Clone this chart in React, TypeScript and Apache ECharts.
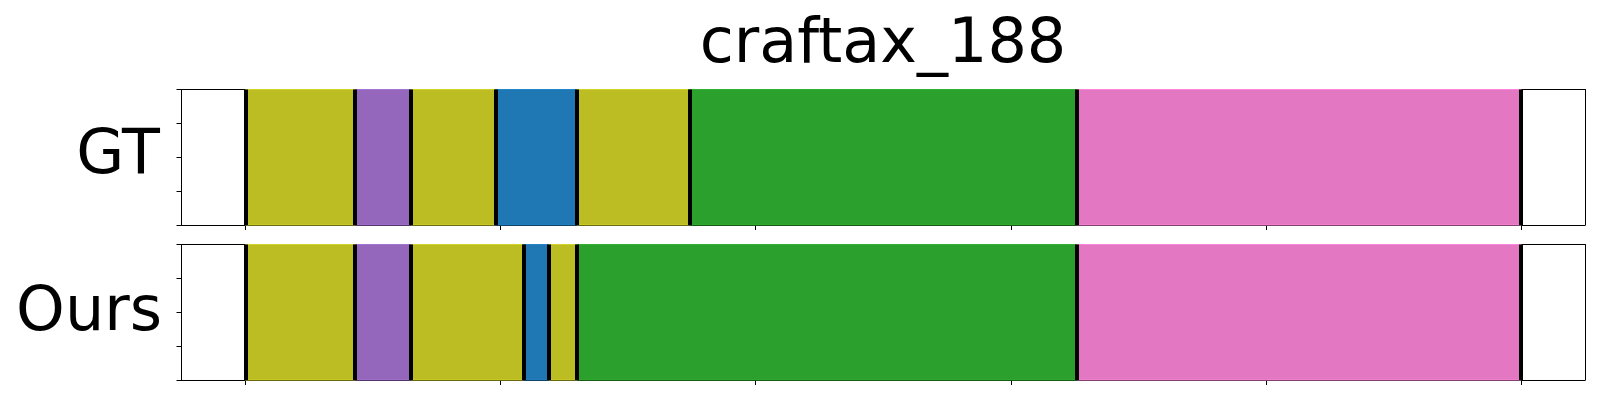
import React, { useEffect, useRef } from "react";
import * as echarts from "echarts";

const titleText = "craftax_188";
const rowLabels = ["GT", "Ours"];
// segment boundaries (time steps) and class index of each segment
const gtBoundaries = [0, 43, 65, 98, 130, 174, 326, 500];
const gtClasses = [8, 4, 8, 0, 8, 2, 6];
const oursBoundaries = [0, 43, 65, 109, 119, 130, 326, 500];
const oursClasses = [8, 4, 8, 0, 8, 2, 6];
const xTicks = [0, 100, 200, 300, 400, 500];

const palette = [
  "#1f77b4", "#ff7f0e", "#2ca02c", "#d62728", "#9467bd",
  "#8c564b", "#e377c2", "#7f7f7f", "#bcbd22", "#17becf",
];

const FONT = "DejaVu Sans";

function segs(bounds: number[], classes: number[]) {
  return classes.map((c, i) => [bounds[i], bounds[i + 1], c]);
}

export default function App() {
  const ref = useRef<HTMLDivElement>(null);
  useEffect(() => {
    if (!ref.current) return;
    const chart = echarts.init(ref.current, undefined, { renderer: "svg" });
    const grids = [
      { left: 181.5, right: 15, top: 89.5, height: 135.5 },
      { left: 181.5, right: 15, top: 244.5, height: 135.5 },
    ];
    const xAxes: any[] = [];
    const yAxes: any[] = [];
    grids.forEach((_, gi) => {
      xAxes.push({
        type: "value", gridIndex: gi, min: -25, max: 525, position: "bottom",
        axisLine: { show: true, onZero: false, lineStyle: { color: "#000", width: 1 } },
        axisTick: { show: true, length: 5, inside: false, customValues: xTicks, lineStyle: { color: "#000", width: 1 } },
        axisLabel: { show: false, customValues: xTicks },
        splitLine: { show: false },
      });
      xAxes.push({
        type: "value", gridIndex: gi, min: -25, max: 525, position: "top",
        axisLine: { show: true, onZero: false, lineStyle: { color: "#000", width: 1 } },
        axisTick: { show: false }, axisLabel: { show: false }, splitLine: { show: false },
      });
      yAxes.push({
        type: "value", gridIndex: gi, min: 0, max: 1, interval: 0.25, position: "left",
        axisLine: { show: true, onZero: false, lineStyle: { color: "#000", width: 1 } },
        axisTick: { show: true, length: 5, inside: false, lineStyle: { color: "#000", width: 1 } },
        axisLabel: { show: false }, splitLine: { show: false },
      });
      yAxes.push({
        type: "value", gridIndex: gi, min: 0, max: 1, position: "right",
        axisLine: { show: true, onZero: false, lineStyle: { color: "#000", width: 1 } },
        axisTick: { show: false }, axisLabel: { show: false }, splitLine: { show: false },
      });
    });

    const renderItem = (params: any, api: any) => {
      const s = api.value(0);
      const e = api.value(1);
      const c = api.value(2);
      const p0 = api.coord([s, 1]);
      const p1 = api.coord([e, 0]);
      const fill = palette[c];
      return {
        type: "rect",
        shape: { x: p0[0], y: p0[1], width: p1[0] - p0[0], height: p1[1] - p0[1] },
        style: { fill, stroke: echarts.color.lift(fill, -0.12), lineWidth: 1 },
      };
    };

    const rows = [
      { b: gtBoundaries, c: gtClasses },
      { b: oursBoundaries, c: oursClasses },
    ];
    const series: any[] = rows.map((r, i) => ({
      type: "custom",
      name: rowLabels[i],
      xAxisIndex: i * 2,
      yAxisIndex: i * 2,
      renderItem,
      encode: { x: [0, 1] },
      data: segs(r.b, r.c),
      z: 2,
      markLine: {
        silent: true,
        symbol: "none",
        label: { show: false },
        lineStyle: { color: "#000", width: 4, type: "solid" },
        data: r.b.map((v) => ({ xAxis: v })),
        z: 3,
      },
    }));

    chart.setOption({
      animation: false,
      grid: grids,
      xAxis: xAxes,
      yAxis: yAxes,
      series,
      graphic: [
        {
          type: "text", x: 883, y: 40,
          style: { text: titleText, font: `62px '${FONT}'`, fill: "#000", align: "center", verticalAlign: "middle" },
        },
        {
          type: "text", x: 160, y: 151,
          style: { text: rowLabels[0], font: `62px '${FONT}'`, fill: "#000", align: "right", verticalAlign: "middle" },
        },
        {
          type: "text", x: 162, y: 308,
          style: { text: rowLabels[1], font: `62px '${FONT}'`, fill: "#000", align: "right", verticalAlign: "middle" },
        },
      ],
    });
    return () => chart.dispose();
  }, []);
  return (
    <div
      ref={ref}
      style={{ position: "absolute", left: 0, top: 0, width: 1600, height: 400, background: "#fff" }}
    />
  );
}
